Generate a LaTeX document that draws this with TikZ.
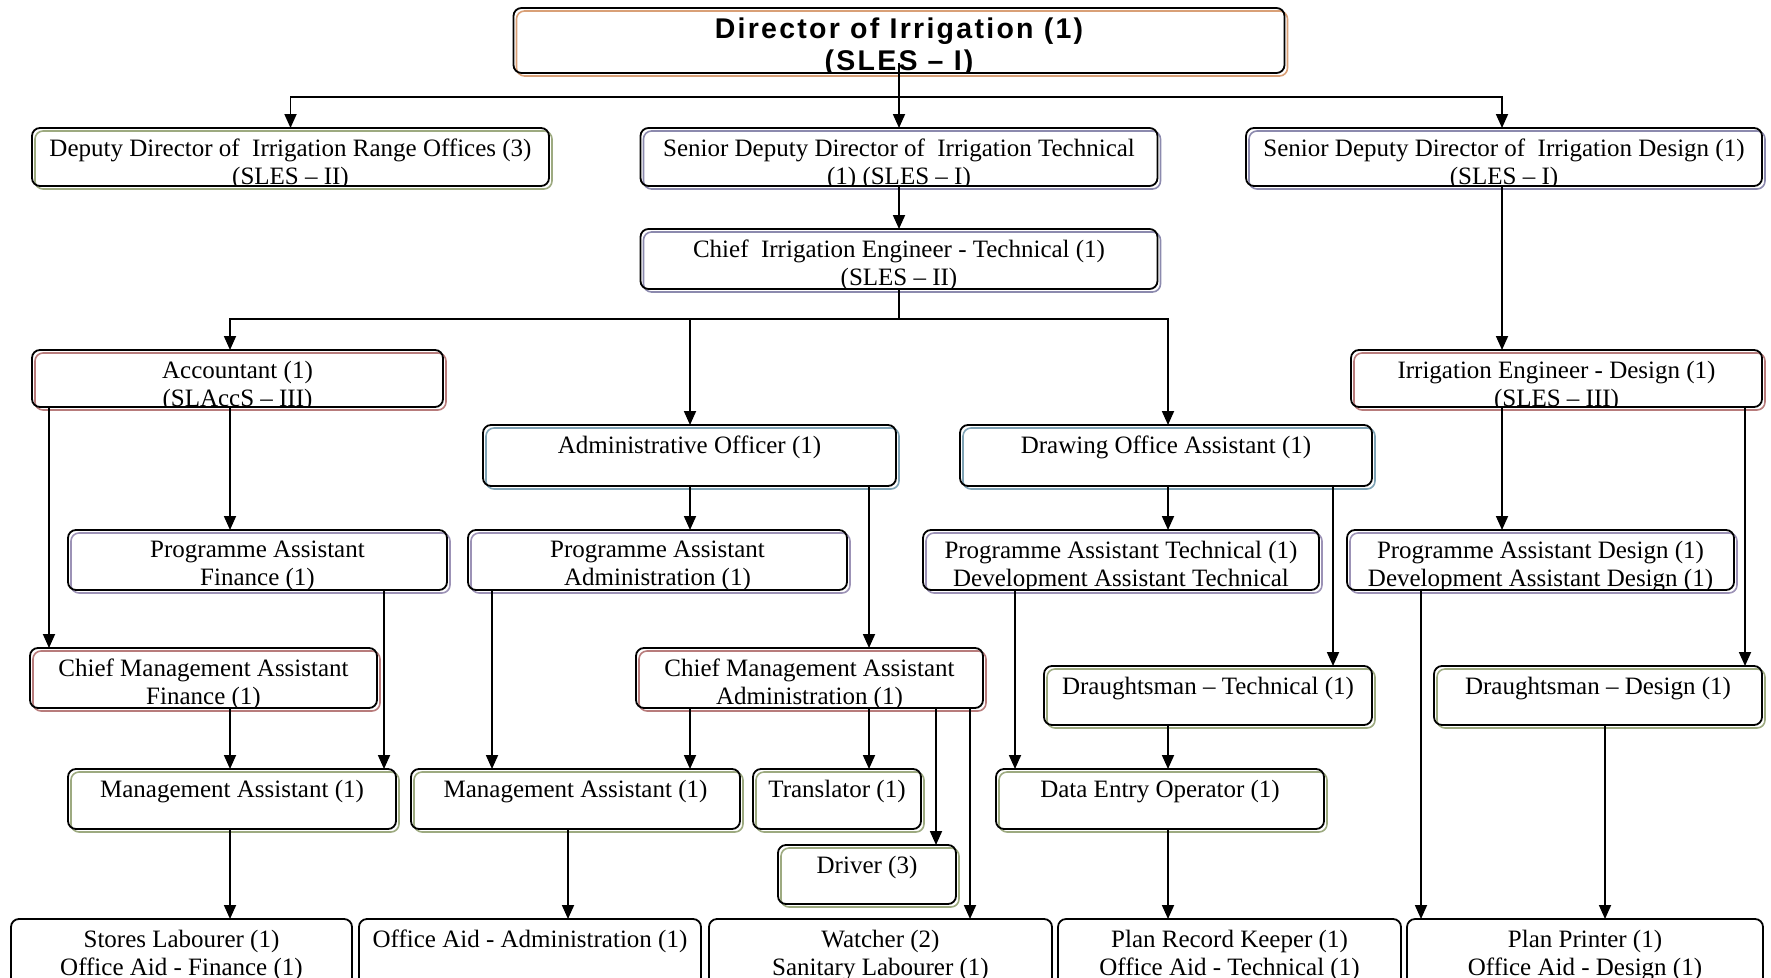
\documentclass[tikz,border=0pt]{standalone}
\usepackage{fontspec}
\setmainfont{Liberation Serif}
\newfontfamily\headfont[LetterSpace=8]{Liberation Sans}
\usetikzlibrary{arrows.meta,shadows}

\definecolor{shOrange}{HTML}{D9A077}
\definecolor{shOlive}{HTML}{9DAA80}
\definecolor{shSlate}{HTML}{8C8AAE}
\definecolor{shRose}{HTML}{B87C7C}
\definecolor{shTeal}{HTML}{7FA3B5}
\definecolor{shLilac}{HTML}{9C92B6}

\begin{document}
\begin{tikzpicture}[x=1pt,y=-1pt,
  box/.style={draw=black, line width=1.8pt, rounded corners=8pt, inner sep=0pt, outer sep=0pt},
  sh/.style={general shadow={draw=#1, fill=none, line width=1.6pt, shadow xshift=3pt, shadow yshift=-3pt}},
  lbl/.style={draw=none, anchor=north, align=center, inner sep=0pt,
      minimum width=0pt, minimum height=0pt},
  body/.style={path picture={\node[lbl, font=\fontsize{25}{28}\selectfont]
      at ([yshift=-11pt]path picture bounding box.north) {#1};}},
  head/.style={path picture={\node[lbl, font=\headfont\bfseries\fontsize{28.5}{32}\selectfont]
      at ([yshift=-10pt]path picture bounding box.north) {#1};}},
  line/.style={line width=1.8pt},
  arr/.style={line width=1.8pt, -{Triangle[width=12pt,length=14pt]}},
]
\useasboundingbox (0,0) rectangle (1771,977);

% top of the hierarchy
\node[box, sh=shOrange, minimum width=771pt, minimum height=65pt,
  head={Director of Irrigation (1)\\(SLES – I)}] (dir) at (899,40.5) {};

\node[box, sh=shOlive, minimum width=517pt, minimum height=58pt,
  body={Deputy Director of~ Irrigation Range Offices (3)\\(SLES – II)}] (ddr) at (290.5,157) {};
\node[box, sh=shSlate, minimum width=517pt, minimum height=58pt,
  body={Senior Deputy Director of~ Irrigation Technical\\(1) (SLES – I)}] (sdt) at (899,157) {};
\node[box, sh=shSlate, minimum width=516pt, minimum height=58pt,
  body={Senior Deputy Director of~ Irrigation Design (1)\\(SLES – I)}] (sdd) at (1504,157) {};

\node[box, sh=shSlate, minimum width=517pt, minimum height=60pt,
  body={Chief~ Irrigation Engineer - Technical (1)\\(SLES – II)}] (cie) at (899,259) {};

% second management level
\node[box, sh=shRose, minimum width=411pt, minimum height=57pt,
  body={Accountant (1)\\(SLAccS – III)}] (acc) at (237.5,378.5) {};
\node[box, sh=shRose, minimum width=411pt, minimum height=57pt,
  body={Irrigation Engineer - Design (1)\\(SLES – III)}] (ied) at (1556.5,378.5) {};
\node[box, sh=shTeal, minimum width=413pt, minimum height=61pt,
  body={Administrative Officer (1)}] (ao) at (689.5,455.5) {};
\node[box, sh=shTeal, minimum width=412pt, minimum height=61pt,
  body={Drawing Office Assistant (1)}] (doa) at (1166,455.5) {};

% programme assistants
\node[box, sh=shLilac, minimum width=379pt, minimum height=60pt,
  body={Programme Assistant\\Finance (1)}] (paf) at (257.5,560) {};
\node[box, sh=shLilac, minimum width=379pt, minimum height=60pt,
  body={Programme Assistant\\Administration (1)}] (paa) at (657.5,560) {};
\node[box, sh=shLilac, minimum width=396pt, minimum height=60pt,
  body={Programme Assistant Technical (1)\\Development Assistant Technical}] (pat) at (1121,560) {};
\node[box, sh=shLilac, minimum width=387pt, minimum height=60pt,
  body={Programme Assistant Design (1)\\Development Assistant Design (1)}] (pad) at (1540.5,560) {};

% chief management assistants and draughtsmen
\node[box, sh=shRose, minimum width=347pt, minimum height=60pt,
  body={Chief Management Assistant\\Finance (1)}] (cmaf) at (203.5,678) {};
\node[box, sh=shRose, minimum width=347pt, minimum height=60pt,
  body={Chief Management Assistant\\Administration (1)}] (cmaa) at (809.5,678) {};
\node[box, sh=shOlive, minimum width=328pt, minimum height=59pt,
  body={Draughtsman – Technical (1)}] (dtc) at (1208,695.5) {};
\node[box, sh=shOlive, minimum width=328pt, minimum height=59pt,
  body={Draughtsman – Design (1)}] (dds) at (1598,695.5) {};

% support staff
\node[box, sh=shOlive, minimum width=328pt, minimum height=60pt,
  body={Management Assistant (1)}] (maf) at (232,799) {};
\node[box, sh=shOlive, minimum width=329pt, minimum height=60pt,
  body={Management Assistant (1)}] (maa) at (575.5,799) {};
\node[box, sh=shOlive, minimum width=168pt, minimum height=60pt,
  body={Translator (1)}] (trn) at (837,799) {};
\node[box, sh=shOlive, minimum width=328pt, minimum height=60pt,
  body={Data Entry Operator (1)}] (deo) at (1160,799) {};
\node[box, sh=shOlive, minimum width=178pt, minimum height=59pt,
  body={Driver (3)}] (drv) at (867,874.5) {};

% lowest row
\node[box, minimum width=341pt, minimum height=80pt,
  body={Stores Labourer (1)\\Office Aid - Finance (1)}] (slb) at (181.5,959) {};
\node[box, minimum width=342pt, minimum height=80pt,
  body={Office Aid - Administration (1)}] (oaa) at (530,959) {};
\node[box, minimum width=343pt, minimum height=80pt,
  body={Watcher (2)\\Sanitary Labourer (1)}] (wat) at (880.5,959) {};
\node[box, minimum width=343pt, minimum height=80pt,
  body={Plan Record Keeper (1)\\Office Aid - Technical (1)}] (prk) at (1229.5,959) {};
\node[box, minimum width=356pt, minimum height=80pt,
  body={Plan Printer (1)\\Office Aid - Design (1)}] (ppr) at (1585,959) {};

% connectors
\coordinate (bar) at (899,97);
\draw[arr] ([yshift=10pt]dir.south) -- (sdt.north);
\draw[arr] (bar) -| (ddr.north);
\draw[arr] (bar) -| (sdd.north -| 1502,0);
\draw[arr] (sdt.south) -- (cie.north);

\draw[line] (cie.south) -- ++(0,30) coordinate (jn);
\draw[arr] (jn) -| (acc.north -| 230,0);
\draw[arr] (jn) -| (ao.north -| 690,0);
\draw[arr] (jn) -| (doa.north -| 1168,0);

\draw[arr] (sdd.south -| 1502,0) -- (ied.north -| 1502,0);

\draw[arr] (acc.south -| 49,0) -- (cmaf.north -| 49,0);
\draw[arr] (acc.south -| 230,0) -- (paf.north -| 230,0);
\draw[arr] (ao.south -| 690,0) -- (paa.north -| 690,0);
\draw[arr] (ao.south -| 869,0) -- (cmaa.north -| 869,0);
\draw[arr] (doa.south -| 1168,0) -- (pat.north -| 1168,0);
\draw[arr] (doa.south -| 1333,0) -- (dtc.north -| 1333,0);
\draw[arr] (ied.south -| 1502,0) -- (pad.north -| 1502,0);
\draw[arr] (ied.south -| 1745,0) -- (dds.north -| 1745,0);

\draw[arr] (paf.south -| 384,0) -- (maf.north -| 384,0);
\draw[arr] (cmaf.south -| 230,0) -- (maf.north -| 230,0);
\draw[arr] (paa.south -| 492,0) -- (maa.north -| 492,0);
\draw[arr] (cmaa.south -| 690,0) -- (maa.north -| 690,0);
\draw[arr] (cmaa.south -| 869,0) -- (trn.north -| 869,0);
\draw[arr] (cmaa.south -| 936,0) -- (drv.north -| 936,0);
\draw[arr] (cmaa.south -| 970,0) -- (wat.north -| 970,0);
\draw[arr] (pat.south -| 1015,0) -- (deo.north -| 1015,0);
\draw[arr] (dtc.south -| 1168,0) -- (deo.north -| 1168,0);

\draw[arr] (maf.south -| 230,0) -- (slb.north -| 230,0);
\draw[arr] (maa.south -| 568,0) -- (oaa.north -| 568,0);
\draw[arr] (deo.south -| 1168,0) -- (prk.north -| 1168,0);
\draw[arr] (pad.south -| 1421,0) -- (ppr.north -| 1421,0);
\draw[arr] (dds.south -| 1605,0) -- (ppr.north -| 1605,0);
\end{tikzpicture}
\end{document}
